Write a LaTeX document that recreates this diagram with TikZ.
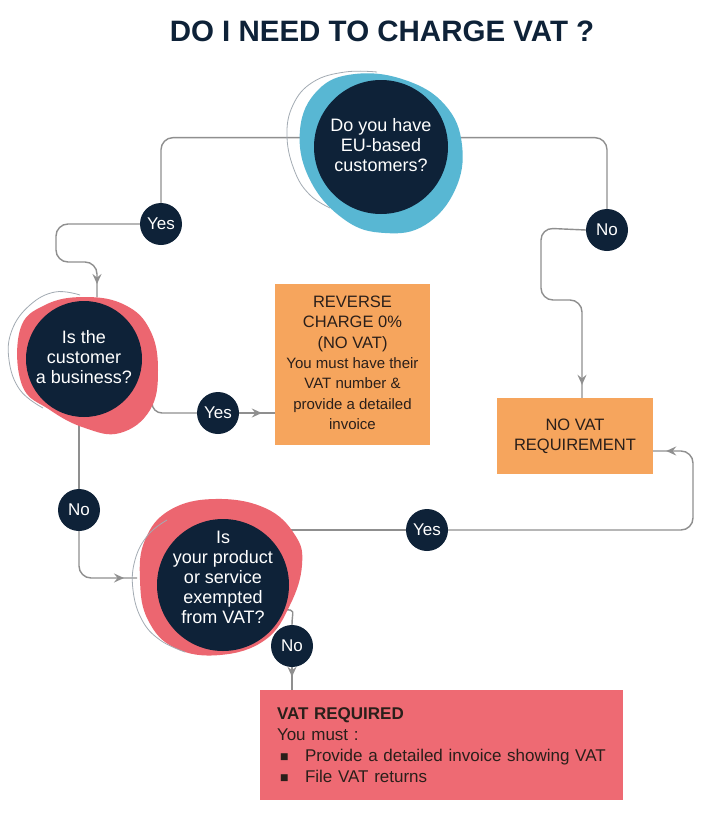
\documentclass[tikz,border=0pt]{standalone}
\usepackage{fontspec}
\setmainfont{Liberation Sans}
\newfontfamily\symfont{DejaVu Sans}
\usetikzlibrary{arrows.meta,decorations.markings,calc}
\definecolor{navy}{HTML}{0E2238}
\definecolor{blobblue}{HTML}{58B7D3}
\definecolor{blobred}{HTML}{EC6670}
\definecolor{boxorange}{HTML}{F6A55D}
\definecolor{boxred}{HTML}{EE6A73}
\definecolor{linegray}{HTML}{8F8F8F}
\definecolor{thingray}{HTML}{A3ABB3}
\definecolor{boxtext}{HTML}{2A1F1A}
\pgfdeclarelayer{bg}
\pgfdeclarelayer{blob}
\pgfsetlayers{bg,blob,main}
\newcommand{\revbig}{\fontsize{16.5}{20.3}\selectfont}
\newcommand{\revsmall}{\fontsize{15}{20.3}\selectfont}
\newcommand{\sqbullet}{\makebox[25pt][l]{\raisebox{1.5pt}{\symfont\fontsize{9}{10}\selectfont ■}}}
\begin{document}
\begin{tikzpicture}[x=1pt,y=-1pt,
  conn/.style={draw=linegray, line width=1.4pt, rounded corners=12pt},
  arrowend/.style={postaction={decorate}, decoration={markings,
      mark=at position -13pt with {\arrow[linegray]{Stealth[length=10pt,width=9pt,inset=3.5pt]}}}},
  qcirc/.style={circle, fill=navy, inner sep=0pt, text=white,
      font=\fontsize{18}{20}\selectfont},
  lab/.style={circle, fill=navy, minimum size=42pt, inner sep=0pt, text=white,
      font=\fontsize{17}{20}\selectfont},
  obox/.style={rectangle, fill=boxorange, inner sep=0pt, text=boxtext, align=center},
  rbox/.style={rectangle, fill=boxred, inner sep=0pt, text=boxtext},
  thin/.style={draw=thingray, line width=0.8pt},
  titlestyle/.style={text=navy, font=\fontsize{29.5}{34}\selectfont\bfseries}
]
\useasboundingbox (0,0) rectangle (713,822);
\begin{pgfonlayer}{bg}
\fill[white] (0,0) rectangle (713,822);
\end{pgfonlayer}

% title
\node[titlestyle] (title) at (382,31) {DO I NEED TO CHARGE VAT ?};

% question circles
\node[qcirc, minimum size=134pt] (q1) at (381,147)
  {\begin{tabular}{@{}c@{}}Do you have\\EU-based\\customers?\end{tabular}};
\node[qcirc, minimum size=116pt] (q2) at (84,359)
  {\begin{tabular}{@{}c@{}}Is the\\customer\\a business?\end{tabular}};
\node[qcirc, minimum size=132pt] (q3) at (223,585)
  {\raisebox{1pt}[0pt][0pt]{\begin{tabular}{@{}c@{}}Is\\your product\\or service\\exempted\\from VAT?\end{tabular}}};

% labels
\node[lab] (yes1) at (161,224) {Yes};
\node[lab] (no1) at (607,230) {No};
\node[lab] (yes2) at (218,413) {Yes};
\node[lab] (no2) at (79,510) {No};
\node[lab] (yes3) at (427,530) {Yes};
\node[lab] (no3) at (292,646) {No};

% boxes
\node[obox, minimum width=155pt, minimum height=161pt, font=\revsmall] (rev) at (352.5,364.5)
  {\begin{tabular}{@{}c@{}}\revbig REVERSE\\\revbig CHARGE 0\%\\\revbig (NO VAT)\\
   \revsmall You must have their\\\revsmall VAT number \&\\\revsmall provide a detailed\\\revsmall invoice\end{tabular}};
\node[obox, minimum width=156pt, minimum height=76pt, font=\fontsize{16.5}{20}\selectfont] (novat) at (575,436)
  {NO VAT\\REQUIREMENT};
\node[rbox, minimum width=363pt, minimum height=110pt, text width=329pt, align=left,
      font=\fontsize{17}{21}\selectfont] (vatreq) at (441.5,745)
  {\textbf{VAT REQUIRED}\\
   You must :\\
   \hspace*{3pt}\sqbullet Provide a detailed invoice showing VAT\\
   \hspace*{3pt}\sqbullet File VAT returns};

\coordinate (q2in) at (97,297);
\coordinate (q3in) at (137,578);

% blobs
\begin{pgfonlayer}{blob}
\fill[blobblue] plot[smooth cycle, tension=0.7] coordinates
  {(300,130) (318,90) (355,74) (405,80) (445,105) (462,145) (455,190) (425,225) (385,233) (345,220) (310,180)};
\draw[thin] plot[smooth, tension=0.7] coordinates
  {(377,72) (345,72) (313,82) (293,105) (287,137) (295,172) (310,195) (330,208)};
\fill[blobred] plot[smooth cycle, tension=0.7] coordinates
  {(20,330) (45,305) (85,297) (125,305) (150,330) (158,370) (150,410) (120,433) (85,428) (50,410) (22,385)};
\draw[thin] plot[smooth, tension=0.7] coordinates
  {(80,295) (55,292) (30,305) (12,330) (9,360) (20,390) (43,408)};
\fill[blobred] plot[smooth cycle, tension=0.7] coordinates
  {(145,540) (170,510) (215,499) (265,508) (295,535) (302,565) (290,605) (265,640) (220,655) (175,648) (148,620) (140,580)};
\draw[thin] plot[smooth, tension=0.7] coordinates
  {(167,520) (148,535) (135,560) (133,590) (142,620) (160,640) (185,652)};
\end{pgfonlayer}

% connectors
\begin{pgfonlayer}{bg}
\path[conn] (q1.172) -| (yes1.north);
\path[conn, arrowend] (yes1.west) -- (56,224) -- (56,262) -- (97,262) -- (q2in);
\path[conn] (q1.8) -| (no1.north);
\path[conn, arrowend] (no1.west) -- (541,228) -- (541,300) -- (582,300) -- ($(novat.north)+(7,0)$);
\path[conn, rounded corners=10pt] (152,394) |- (yes2.west);
\path[conn, arrowend] (yes2.east) -- (yes2.east -| rev.west);
\path[conn] ($(q2.south)+(-5,0)$) -- (no2.north);
\path[conn, arrowend] (no2.south) -- (79,578) -- (q3in);
\path[conn] (yes3.west -| q3.east) -- (yes3.west);
\path[conn, arrowend] (yes3.east) -- (693,530) -- (693,451) -- ($(novat.east)+(0,15)$);
\path[conn, rounded corners=0pt] (q3.-22) .. controls +(12,0) and +(0,-14) .. (no3.north);
\path[conn, arrowend] (no3.south) -- (no3.south |- vatreq.north);
\end{pgfonlayer}
\end{tikzpicture}
\end{document}
